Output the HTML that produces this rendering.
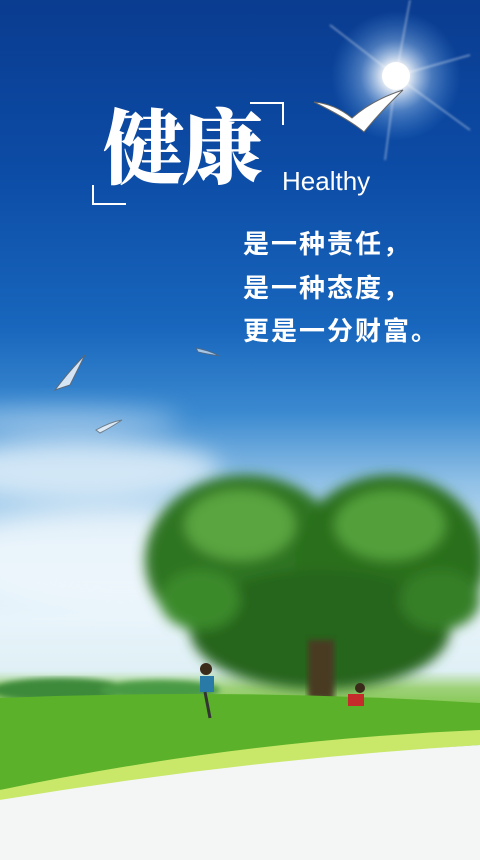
<!DOCTYPE html>
<html><head><meta charset="utf-8">
<style>
html,body{margin:0;padding:0;width:480px;height:860px;overflow:hidden;}
#poster{position:relative;width:480px;height:860px;overflow:hidden;
background:linear-gradient(180deg,#0a3c90 0%,#0c4ca6 20%,#1866bd 38%,#3b8ad0 48%,#8fc0e6 56%,#cfe6f6 64%,#e8f4fb 72%,#dff0f5 78%,#9fd27a 80%,#6bbd2e 84%,#4fa820 88%,#eef2ee 90%,#f6f7f7 100%);
font-family:"Liberation Sans","Noto Sans CJK SC",sans-serif;}
.abs{position:absolute;}
</style></head>
<body>
<div id="poster">
<svg class="abs" style="left:0;top:0" width="480" height="860">
<defs>
<radialGradient id="sun" cx="0.5" cy="0.5" r="0.5">
<stop offset="0" stop-color="#fff" stop-opacity="1"/>
<stop offset="0.2" stop-color="#fff" stop-opacity="0.9"/>
<stop offset="0.55" stop-color="#bfe0ff" stop-opacity="0.35"/>
<stop offset="1" stop-color="#6fb0f0" stop-opacity="0"/>
</radialGradient>
<filter id="blur6"><feGaussianBlur stdDeviation="6"/></filter>
<filter id="blur3"><feGaussianBlur stdDeviation="3"/></filter>
<filter id="blur1"><feGaussianBlur stdDeviation="1"/></filter>
<filter id="blur12"><feGaussianBlur stdDeviation="12"/></filter>
</defs>
<g filter="url(#blur12)">
<ellipse cx="80" cy="470" rx="140" ry="30" fill="#e6f2fb" opacity="0.8"/>
<ellipse cx="60" cy="420" rx="120" ry="12" fill="#cfe4f6" opacity="0.6"/>
<ellipse cx="120" cy="560" rx="180" ry="50" fill="#f0f8fd" opacity="0.8"/>
</g>
<g>
<circle cx="396" cy="76" r="65" fill="url(#sun)"/>
<g stroke="#fff" stroke-width="1.2" opacity="0.55" filter="url(#blur1)">
<line x1="396" y1="76" x2="330" y2="25"/>
<line x1="396" y1="76" x2="470" y2="55"/>
<line x1="396" y1="76" x2="470" y2="130"/>
<line x1="396" y1="76" x2="410" y2="0"/>
<line x1="396" y1="76" x2="385" y2="160"/>
</g>
<circle cx="396" cy="76" r="14" fill="#fff"/>
</g>
<g filter="url(#blur3)">
<ellipse cx="60" cy="690" rx="70" ry="12" fill="#3e8a3a"/>
<ellipse cx="160" cy="690" rx="60" ry="10" fill="#4a9a44"/>
</g>
<g>
<g filter="url(#blur6)">
<ellipse cx="245" cy="560" rx="100" ry="85" fill="#2d7520"/>
<ellipse cx="390" cy="560" rx="95" ry="85" fill="#2a701e"/>
<ellipse cx="320" cy="630" rx="130" ry="60" fill="#25651b"/>
<ellipse cx="240" cy="525" rx="55" ry="35" fill="#5aa540"/>
<ellipse cx="390" cy="525" rx="55" ry="35" fill="#52a03a"/>
<ellipse cx="200" cy="600" rx="40" ry="30" fill="#3a8a2a"/>
<ellipse cx="440" cy="600" rx="40" ry="30" fill="#357f26"/>
</g>
<rect x="308" y="640" width="26" height="60" fill="#4a3a22" filter="url(#blur3)"/>
</g>
<g>
<path d="M0 698 Q240 688 480 703 L480 740 Q240 760 0 790 Z" fill="#5cb12a"/>
<path d="M0 790 Q240 740 480 730 L480 745 Q260 760 0 800 Z" fill="#c9e86a"/>
<path d="M0 800 Q240 760 480 745 L480 860 L0 860 Z" fill="#f4f6f5"/>
</g>
<g>
<circle cx="206" cy="669" r="6" fill="#3a2a1a"/>
<rect x="200" y="676" width="14" height="16" fill="#2a7aa8"/>
<line x1="205" y1="692" x2="210" y2="718" stroke="#333" stroke-width="3"/>
<circle cx="360" cy="688" r="5" fill="#3a2a1a"/>
<rect x="348" y="694" width="16" height="12" fill="#c62b2b"/>
</g>
<g fill="#fff" stroke="#666" stroke-width="1">
<path d="M314 102 Q335 104 352 118 Q372 100 403 90 Q380 112 364 132 Q350 120 314 102 Z"/>
<path d="M55 390 Q70 370 85 355 Q75 375 70 385 Z" opacity="0.8"/>
<path d="M96 430 Q110 422 122 420 Q110 428 100 433 Z" opacity="0.7"/>
<path d="M196 348 Q208 350 220 356 Q206 354 198 352 Z" opacity="0.6"/>
</g>
<g stroke="#fff" stroke-width="2" fill="none">
<polyline points="250,103 283,103 283,125"/>
<polyline points="93,185 93,204 126,204"/>
</g>
</svg>
<div class="abs" style="left:103px;top:100px;font-family:'Liberation Serif','Noto Serif CJK SC',serif;font-weight:900;font-size:82px;line-height:100px;color:#fff;letter-spacing:-4px;">健康</div>
<div class="abs" style="left:282px;top:166px;font-size:26px;color:#fff;">Healthy</div>
<div class="abs" style="left:243px;top:223px;font-size:26px;font-weight:bold;line-height:43.5px;color:#fff;letter-spacing:2px;">是一种责任，<br>是一种态度，<br>更是一分财富。</div>
</div>
</body></html>
